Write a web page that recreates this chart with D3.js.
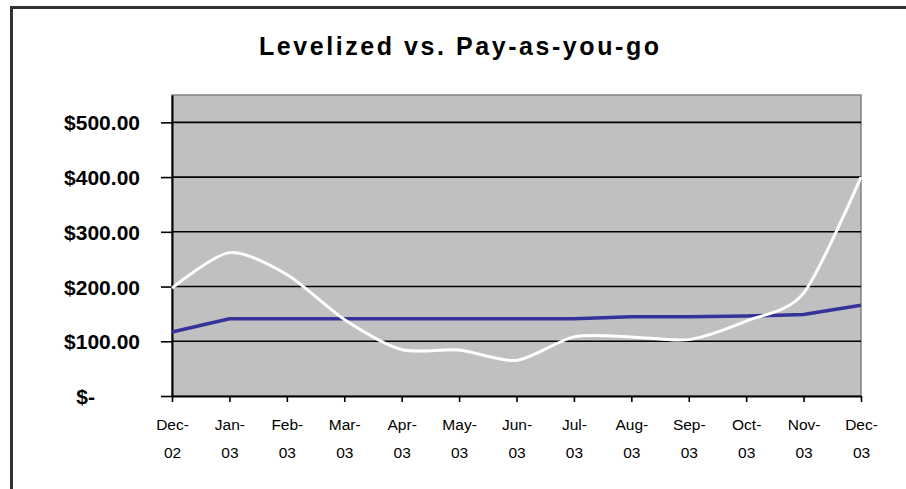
<!DOCTYPE html>
<html>
<head>
<meta charset="utf-8">
<script src="https://cdn.jsdelivr.net/npm/d3@7"></script>
<style>
  html, body { margin: 0; padding: 0; background: #fff; }
  svg { display: block; }
</style>
</head>
<body>
<svg id="chart" width="906" height="489"></svg>
<script>
// ---- data ----
const categories = ["Dec-02","Jan-03","Feb-03","Mar-03","Apr-03","May-03","Jun-03","Jul-03","Aug-03","Sep-03","Oct-03","Nov-03","Dec-03"];
const levelized = [117, 141, 141, 141, 141, 141, 141, 141, 145, 145, 146, 149, 166];
const payAsYouGo = [197, 262, 222, 140, 85, 84, 65, 108, 108, 103, 137, 188, 400];
const yTickValues = [0, 100, 200, 300, 400, 500];
const yTickLabels = ["$-", "$100.00", "$200.00", "$300.00", "$400.00", "$500.00"];
const title = "Levelized vs. Pay-as-you-go";

// ---- layout ----
const svg = d3.select("#chart");
const plot = {left: 172, right: 861, top: 95, bottom: 396};

svg.append("rect").attr("width", 906).attr("height", 489).attr("fill", "#fff");
// outer chart border (only left & top visible)
svg.append("path").attr("d", "M11.5,489 V7.5 H906").attr("fill", "none")
  .attr("stroke", "#333").attr("stroke-width", 3);

const x = d3.scalePoint().domain(categories).range([plot.left, plot.right]);
const y = d3.scaleLinear().domain([0, 550]).range([plot.bottom, plot.top]);

// plot area
svg.append("rect").attr("x", plot.left).attr("y", plot.top)
  .attr("width", plot.right - plot.left).attr("height", plot.bottom - plot.top)
  .attr("fill", "#c0c0c0").attr("stroke", "#808080").attr("stroke-width", 1.5);

// gridlines
svg.append("g").selectAll("line").data(yTickValues.filter(d => d > 0)).join("line")
  .attr("x1", plot.left).attr("x2", plot.right)
  .attr("y1", d => y(d)).attr("y2", d => y(d))
  .attr("stroke", "#000").attr("stroke-width", 1.6);

// y axis
const yAxis = svg.append("g").attr("transform", `translate(${plot.left},0)`)
  .call(d3.axisLeft(y).tickValues(yTickValues).tickSize(11).tickSizeOuter(0).tickPadding(21)
    .tickFormat((d, i) => yTickLabels[i]));
yAxis.select(".domain").attr("stroke", "#000").attr("stroke-width", 2);
yAxis.selectAll(".tick line").attr("stroke", "#000").attr("stroke-width", 1.6);
yAxis.selectAll(".tick text")
  .attr("font-family", "Arial, 'Liberation Sans', sans-serif")
  .attr("font-weight", "bold").attr("font-size", 21).attr("fill", "#000")
  .attr("dy", "0.36em")
  .attr("dx", (d) => d === 0 ? -45 : 0);

// x axis
const xAxis = svg.append("g").attr("transform", `translate(0,${plot.bottom})`)
  .call(d3.axisBottom(x).tickSize(6).tickSizeOuter(0).tickFormat(""));
xAxis.select(".domain").attr("stroke", "#000").attr("stroke-width", 2);
xAxis.selectAll(".tick line").attr("stroke", "#000").attr("stroke-width", 1.6);
xAxis.selectAll(".tick").each(function(d) {
  const parts = d.split("-");
  const t = d3.select(this).append("text")
    .attr("font-family", "Arial, 'Liberation Sans', sans-serif")
    .attr("font-size", 15.5).attr("fill", "#000").attr("text-anchor", "middle");
  t.append("tspan").attr("x", 0).attr("y", 34).text(parts[0] + "-");
  t.append("tspan").attr("x", 0).attr("y", 62).text(parts[1]);
});

// lines
const lineLev = d3.line().x((d, i) => x(categories[i])).y(d => y(d));
const linePay = d3.line().x((d, i) => x(categories[i])).y(d => y(d)).curve(d3.curveCardinal.tension(0.2));

svg.append("path").datum(levelized).attr("d", lineLev)
  .attr("fill", "none").attr("stroke", "#333399").attr("stroke-width", 3.5);
svg.append("path").datum(payAsYouGo).attr("d", linePay)
  .attr("fill", "none").attr("stroke", "#fff").attr("stroke-width", 3);

// title
svg.append("text").attr("x", 459).attr("y", 55).attr("text-anchor", "middle")
  .attr("font-family", "Arial, 'Liberation Sans', sans-serif")
  .attr("font-weight", "bold").attr("font-size", 25).attr("fill", "#000")
  .attr("textLength", 400).attr("lengthAdjust", "spacing")
  .text(title);
</script>
</body>
</html>
